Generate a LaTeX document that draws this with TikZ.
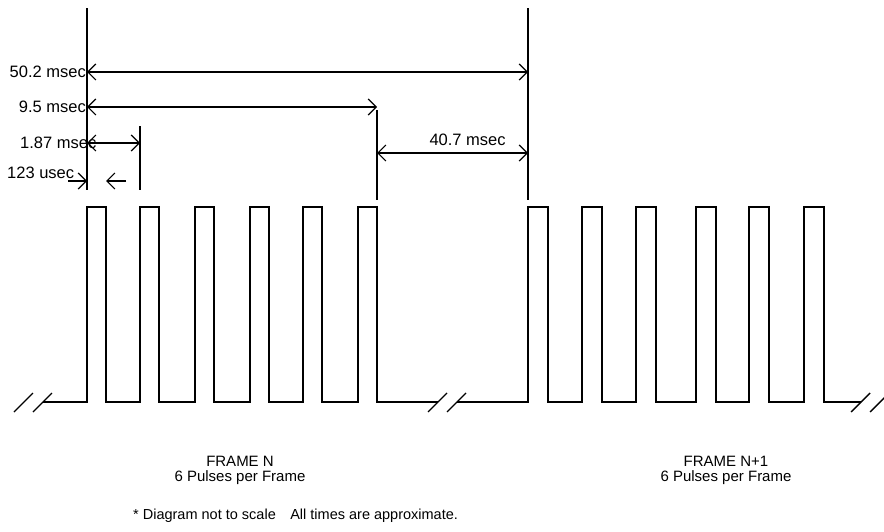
\documentclass[tikz,border=0pt]{standalone}
\usepackage{fontspec}
\setmainfont{Liberation Sans}
\usetikzlibrary{arrows.meta}

\begin{document}
\begin{tikzpicture}[
        x=1pt, y=-1pt,
        wave/.style={line width=1.4pt, line join=miter},
        ext/.style={line width=1.2pt},
        dim/.style={line width=1.2pt, {Straight Barb[length=8pt,width=16pt]}-{Straight Barb[length=8pt,width=16pt]}},
        oneway/.style={line width=1.2pt, -{Straight Barb[length=8pt,width=16pt]}},
        lbl/.style={font=\fontsize{16.5}{18}\selectfont, inner sep=1pt},
        framelbl/.style={font=\fontsize{15}{15}\selectfont, align=center},
        note/.style={font=\fontsize{14.5}{16}\selectfont, inner sep=0pt},
        brk/.pic={\draw[wave] (-10,10) -- (9,-9) (9,10) -- (28,-9);}
    ]

    \useasboundingbox (0,0) rectangle (884,532);

    % levels
    \coordinate (topE) at (0,8);
    \coordinate (lvlA) at (0,72);
    \coordinate (lvlB) at (0,107);
    \coordinate (lvlC) at (0,143);
    \coordinate (lvlE) at (0,153);
    \coordinate (lvlD) at (0,181);

    % Frame N
    \draw[wave] (43,402) foreach \x [count=\i] in {87,140,195,250,303,358} {
        -- (\x,402) -- (\x,207) coordinate (nL\i) -- ++(19,0) coordinate (nR\i) -- ++(0,195)
    } -- (438,402);

    % Frame N+1
    \draw[wave] (457,402) foreach \x [count=\i] in {528,582,636,696,749,804} {
        -- (\x,402) -- (\x,207) coordinate (mL\i) -- ++(20,0) coordinate (mR\i) -- ++(0,195)
    } -- (861,402);

    % breaks
    \pic at (24,402) {brk};
    \pic at (438,402) {brk};
    \pic at (861,402) {brk};

    % extension lines
    \draw[ext] ([yshift=17pt]nL1) -- (nL1 |- topE);
    \draw[ext] ([yshift=17pt]nL2) -- (nL2 |- 0,126);
    \draw[ext] ([yshift=7pt]nR6) -- (nR6 |- 0,110);
    \draw[ext] ([yshift=7pt]mL1) -- (mL1 |- topE);

    % dimensions
    \draw[dim] (nL1 |- lvlA) -- (mL1 |- lvlA);
    \draw[dim] (nL1 |- lvlB) -- (nR6 |- lvlB);
    \draw[dim] (nL1 |- lvlC) -- (nL2 |- lvlC);
    \draw[dim] (nR6 |- lvlE) -- node[lbl, pos=0.6, above=6pt] (d407) {40.7 msec} (mL1 |- lvlE);

    \coordinate (uA) at (68,181);
    \coordinate (uB) at (126,181);
    \draw[oneway] (uA) -- (nL1 |- lvlD);
    \draw[oneway] (uB) -- (nR1 |- lvlD);

    % labels
    \node[lbl, anchor=east] (d502) at (nL1 |- lvlA) {50.2 msec};
    \node[lbl, anchor=east] (d95) at (nL1 |- lvlB) {9.5 msec};
    \node[lbl, anchor=west] (d187) at (19,143) {1.87 msec};
    \node[lbl, anchor=west] (d123) at (6,173) {123 usec};

    \node[framelbl] (frN) at (240,470) {FRAME N\\6 Pulses per Frame};
    \node[framelbl] (frN1) at (726,470) {FRAME N+1\\6 Pulses per Frame};

    \node[note, anchor=west] (foot) at (133,516) {* Diagram not to scale\quad All times are approximate.};

\end{tikzpicture}
\end{document}
